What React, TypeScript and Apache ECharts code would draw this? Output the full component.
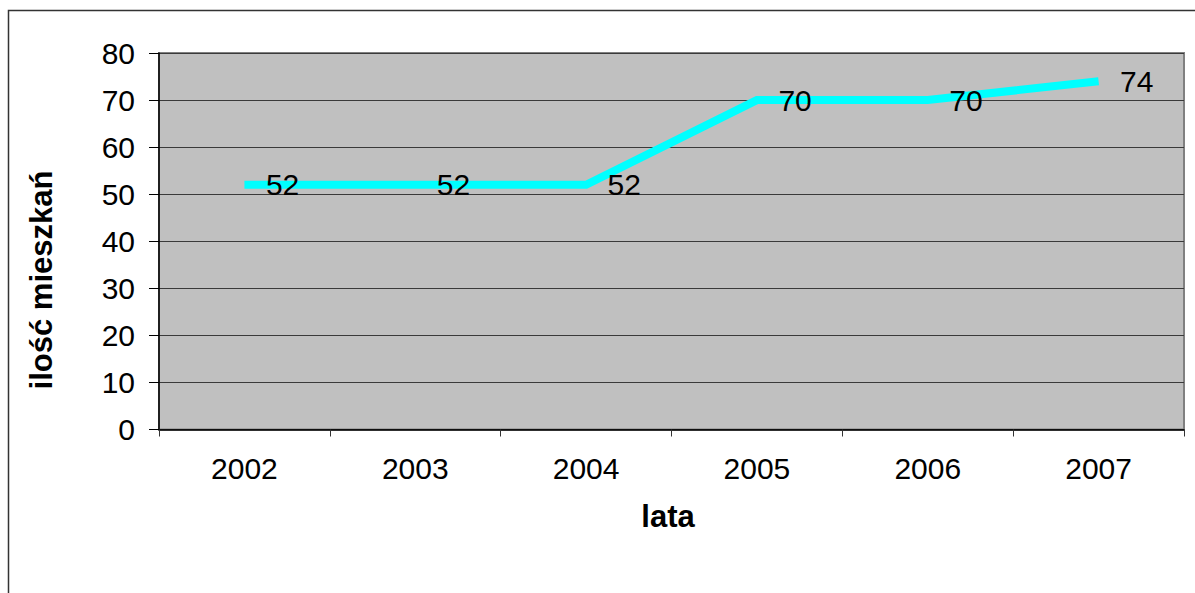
import React, { useEffect, useRef } from "react";
import * as echarts from "echarts";

const categories: string[] = ["2002", "2003", "2004", "2005", "2006", "2007"];
const values: number[] = [52, 52, 52, 70, 70, 74];
const yTitle = "ilość mieszkań";
const xTitle = "lata";

export default function App() {
  const ref = useRef<HTMLDivElement>(null);
  useEffect(() => {
    if (!ref.current) return;
    const chart = echarts.init(ref.current, undefined, { renderer: "svg" });
    const font = "Arial, 'Liberation Sans', Helvetica, sans-serif";
    chart.setOption({
      animation: false,
      backgroundColor: "#ffffff",
      textStyle: { fontFamily: font },
      grid: {
        left: 159,
        top: 53,
        right: 11,
        bottom: 163.5,
        show: true,
        backgroundColor: "#C0C0C0",
        borderColor: "#808080",
        borderWidth: 2,
      },
      xAxis: {
        type: "category",
        data: categories,
        boundaryGap: true,
        axisLine: { lineStyle: { color: "#000000", width: 1.5 } },
        axisTick: { show: true, length: 7, lineStyle: { color: "#333333" } },
        axisLabel: { color: "#000000", fontSize: 30, margin: 24, fontFamily: font },
        splitLine: { show: false },
      },
      yAxis: {
        type: "value",
        min: 0,
        max: 80,
        interval: 10,
        axisLine: { show: true, lineStyle: { color: "#000000", width: 1.5 } },
        axisTick: { show: true, length: 10, lineStyle: { color: "#000000" } },
        axisLabel: { color: "#000000", fontSize: 30, margin: 24, fontFamily: font },
        splitLine: { show: true, lineStyle: { color: "#3a3a3a", width: 1 } },
      },
      graphic: [
        {
          type: "rect",
          shape: { x: 8.5, y: 10.5, width: 1300, height: 700 },
          style: { fill: "none", stroke: "#333333", lineWidth: 1.5 },
          silent: true,
          z: -10,
        },
        {
          type: "text",
          x: 41,
          y: 280,
          rotation: Math.PI / 2,
          style: {
            text: yTitle,
            fontSize: 31,
            fontWeight: "bold",
            fontFamily: font,
            fill: "#000000",
            textAlign: "center",
            textVerticalAlign: "middle",
          },
        },
        {
          type: "text",
          x: 668,
          y: 516,
          style: {
            text: xTitle,
            fontSize: 31,
            fontWeight: "bold",
            fontFamily: font,
            fill: "#000000",
            textAlign: "center",
            textVerticalAlign: "middle",
          },
        },
      ],
      series: [
        {
          type: "line",
          data: values,
          symbol: "circle",
          symbolSize: 1,
          showSymbol: true,
          itemStyle: { color: "rgba(0,0,0,0)" },
          lineStyle: { color: "#00FFFF", width: 8, cap: "butt", join: "miter" },
          label: {
            show: true,
            position: "right",
            distance: 21,
            offset: [0, 4],
            color: "#000000",
            fontSize: 30,
            fontFamily: font,
          },
          labelLayout: { hideOverlap: false },
          z: 5,
        },
      ],
    });
    return () => chart.dispose();
  }, []);
  return (
    <div
      ref={ref}
      style={{ position: "absolute", left: 0, top: 0, width: 1195, height: 593 }}
    />
  );
}
